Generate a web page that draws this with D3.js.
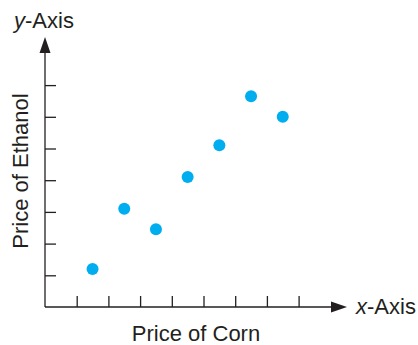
<!DOCTYPE html>
<html>
<head>
<meta charset="utf-8">
<script src="https://cdn.jsdelivr.net/npm/d3@7"></script>
<style>
  body { margin: 0; background: #fff; }
  text { font-family: "Liberation Sans", Arial, sans-serif; fill: #231f20; }
</style>
</head>
<body>
<div class="chart"></div>
<script>
var svgWidth = 418;
var svgHeight = 345;

// data (price units)
var cornPrice = [1.5, 2.5, 3.5, 4.5, 5.5, 6.5, 7.5];
var ethanolPrice = [1.2, 3.1, 2.45, 4.1, 5.1, 6.65, 6.0];
var xTicks = [1, 2, 3, 4, 5, 6, 7, 8];
var yTicks = [1, 2, 3, 4, 5, 6, 7];

var origin = { x: 45, y: 307 };
var unit = 31.7;

var svg = d3.select(".chart")
  .append("svg")
  .attr("width", svgWidth)
  .attr("height", svgHeight);

var xScale = d3.scaleLinear()
  .domain([0, 8])
  .range([origin.x, origin.x + 8 * unit]);

var yScale = d3.scaleLinear()
  .domain([0, 7])
  .range([origin.y, origin.y - 7 * unit]);

var ink = "#231f20";

// axes, ticks only (no labels)
var bottomAxis = d3.axisBottom(xScale).tickValues(xTicks).tickSize(-11).tickFormat("");
var leftAxis = d3.axisLeft(yScale).tickValues(yTicks).tickSize(-11).tickFormat("");

var xAxis = svg.append("g")
  .attr("transform", `translate(0,${origin.y})`)
  .call(bottomAxis);
var yAxis = svg.append("g")
  .attr("transform", `translate(${origin.x},0)`)
  .call(leftAxis);

[xAxis, yAxis].forEach(function(ax) {
  ax.select(".domain").remove();
  ax.selectAll(".tick line").attr("stroke", ink).attr("stroke-width", 1.3);
});

// axis lines with arrow heads
svg.append("line")
  .attr("x1", origin.x).attr("y1", origin.y)
  .attr("x2", 333).attr("y2", origin.y)
  .attr("stroke", ink).attr("stroke-width", 1.3);
svg.append("path")
  .attr("d", `M347,${origin.y} L331,${origin.y - 5.5} L331,${origin.y + 5.5} Z`)
  .attr("fill", ink);

svg.append("line")
  .attr("x1", origin.x).attr("y1", origin.y)
  .attr("x2", origin.x).attr("y2", 52)
  .attr("stroke", ink).attr("stroke-width", 1.3);
svg.append("path")
  .attr("d", `M${origin.x},37 L${origin.x - 5.5},53 L${origin.x + 5.5},53 Z`)
  .attr("fill", ink);

// points
svg.append("g")
  .selectAll("circle")
  .data(cornPrice)
  .enter()
  .append("circle")
  .attr("cx", d => xScale(d))
  .attr("cy", (d, i) => yScale(ethanolPrice[i]))
  .attr("r", 6)
  .attr("fill", "#00aeef");

// labels
var yLab = svg.append("text")
  .attr("x", 14)
  .attr("y", 28)
  .attr("font-size", 22);
yLab.append("tspan").attr("font-style", "italic").text("y");
yLab.append("tspan").text("-Axis");

var xLab = svg.append("text")
  .attr("x", 356)
  .attr("y", 314)
  .attr("font-size", 22);
xLab.append("tspan").attr("font-style", "italic").text("x");
xLab.append("tspan").text("-Axis");

svg.append("text")
  .attr("x", 196)
  .attr("y", 341)
  .attr("text-anchor", "middle")
  .attr("font-size", 22)
  .text("Price of Corn");

svg.append("text")
  .attr("transform", "translate(28,171) rotate(-90)")
  .attr("text-anchor", "middle")
  .attr("font-size", 22)
  .text("Price of Ethanol");
</script>
</body>
</html>
